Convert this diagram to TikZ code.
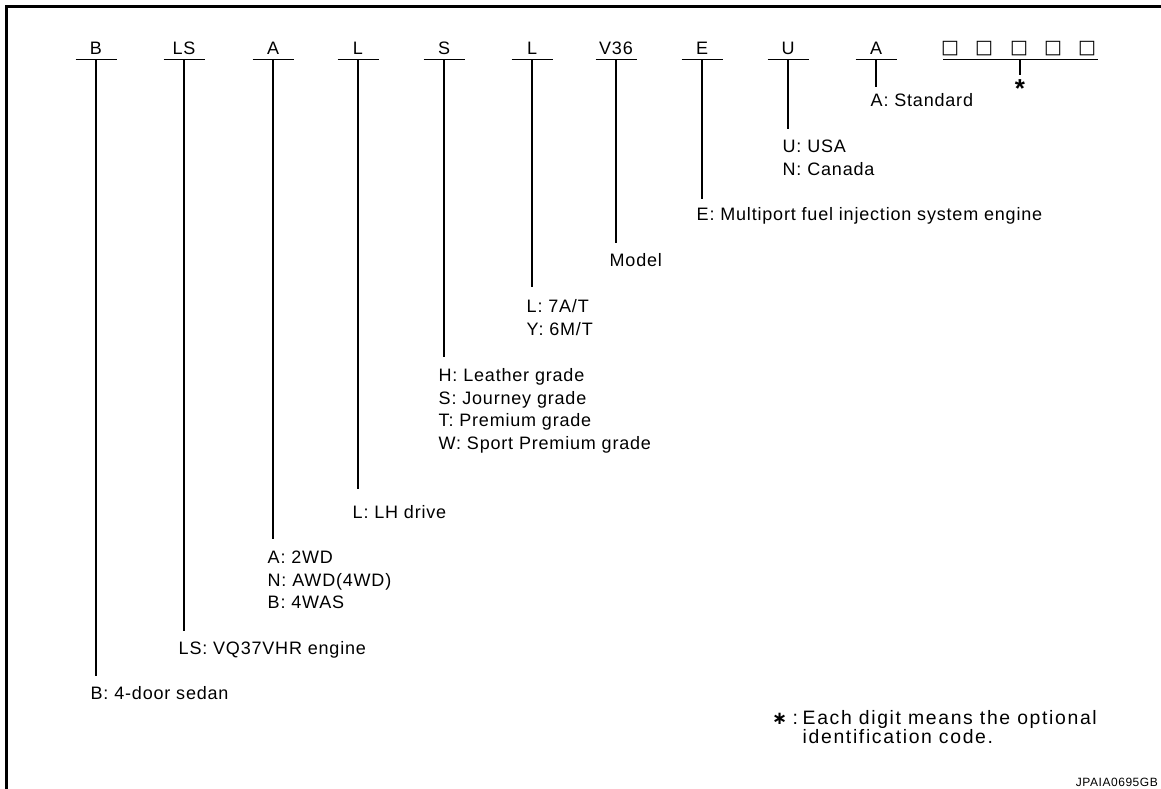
\documentclass[tikz,border=0pt]{standalone}
\usepackage{fontspec}
\setmainfont{Liberation Sans}[LetterSpace=4.5]
\newfontfamily\wide{Liberation Sans}[LetterSpace=8.5]
\newfontfamily\djv{DejaVu Sans}
\newfontfamily\starfont{Liberation Sans Bold}
\begin{document}
\begin{tikzpicture}[x=1pt,y=-1pt,
  codetxt/.style={font=\fontsize{18}{21}\selectfont, anchor=base, inner sep=0pt},
  lbl/.style={font=\fontsize{18}{22.7}\selectfont, anchor=base west, inner sep=0pt},
  note/.style={font=\wide\fontsize{19.4}{19.5}\selectfont, anchor=base west, inner sep=0pt},
  bar/.style={line width=1.4pt},
  leader/.style={line width=1.2pt},
  frame/.style={line width=3.5pt},
  boxglyph/.style={font=\djv\fontsize{19}{21}\selectfont, anchor=base, inner sep=0pt}]
\useasboundingbox (0,0) rectangle (1161,789);
% frame
\coordinate (fTL) at (6.5,6.5);
\coordinate (fTR) at (1161,6.5);
\coordinate (fBL) at (6.5,789);
\draw[frame] (fBL) -- (fTL) -- (fTR);
% code letters, bars and leaders
\foreach \nm/\xx/\txt/\yend in {
  cB/96/B/676, cLS/184/LS/631, cA/273/A/539, cL/358/L/489, cS/444/S/357,
  cLt/532/L/287, cV/616/V36/243, cE/702/E/199, cU/788/U/129, cAs/876/A/87}{
  \node[codetxt] (\nm) at (\xx,55) {\txt};
  \coordinate (\nm-l) at (\xx-20.5,59.3);
  \coordinate (\nm-r) at (\xx+20.5,59.3);
  \coordinate (\nm-t) at (\xx,59.3);
  \coordinate (\nm-e) at (\xx,\yend);
  \draw[bar] (\nm-l) -- (\nm-r);
  \draw[leader] (\nm-t) -- (\nm-e);
}
% optional digits
\foreach \nm/\xx in {d1/950, d2/984, d3/1019, d4/1053, d5/1087}{
  \node[boxglyph] (\nm) at (\xx,54) {□};
}
\coordinate (dL) at (943,59.3);
\coordinate (dR) at (1098,59.3);
\coordinate (dT) at (1020,59.3);
\coordinate (dE) at (1020,75);
\draw[bar] (dL) -- (dR);
\draw[leader] (dT) -- (dE);
\node[font=\starfont\fontsize{26}{26}\selectfont, anchor=north, inner sep=0pt] (star) at (1020,79) {*};
% labels
\node[lbl] (lAs) at (870.5,106.8) {A: Standard};
\node[lbl] (lU1) at (782.5,152.5) {U: USA};
\node[lbl] (lU2) at (782.5,175.2) {N: Canada};
\node[lbl] (lE) at (696.5,220.8) {E: Multiport fuel injection system engine};
\node[lbl] (lV) at (609.5,266.5) {Model};
\node[lbl] (lLt1) at (526.5,312.5) {L: 7A/T};
\node[lbl] (lLt2) at (526.5,335.2) {Y: 6M/T};
\node[lbl] (lS1) at (438.5,381.5) {H: Leather grade};
\node[lbl] (lS2) at (438.5,404.2) {S: Journey grade};
\node[lbl] (lS3) at (438.5,426.9) {T: Premium grade};
\node[lbl] (lS4) at (438.5,449.6) {W: Sport Premium grade};
\node[lbl] (lL) at (352.5,518.2) {L: LH drive};
\node[lbl] (lA1) at (267.5,563.5) {A: 2WD};
\node[lbl] (lA2) at (267.5,586.2) {N: AWD(4WD)};
\node[lbl] (lA3) at (267.5,608.9) {B: 4WAS};
\node[lbl] (lLS) at (178.5,654.2) {LS: VQ37VHR engine};
\node[lbl] (lB) at (90.5,699.5) {B: 4-door sedan};
% footnote
\node[note, font=\djv\bfseries\fontsize{18}{19.5}\selectfont] (fstar) at (772,724) {∗};
\node[note] (fcolon) at (792.5,724) {:};
\node[note] (fn1) at (802.5,724) {Each digit means the optional};
\node[note] (fn2) at (802.5,743.5) {identification code.};
% figure id
\node[font=\fontsize{12}{14}\selectfont, anchor=base east, inner sep=0pt] (fid) at (1158,786) {JPAIA0695GB};
\end{tikzpicture}
\end{document}
